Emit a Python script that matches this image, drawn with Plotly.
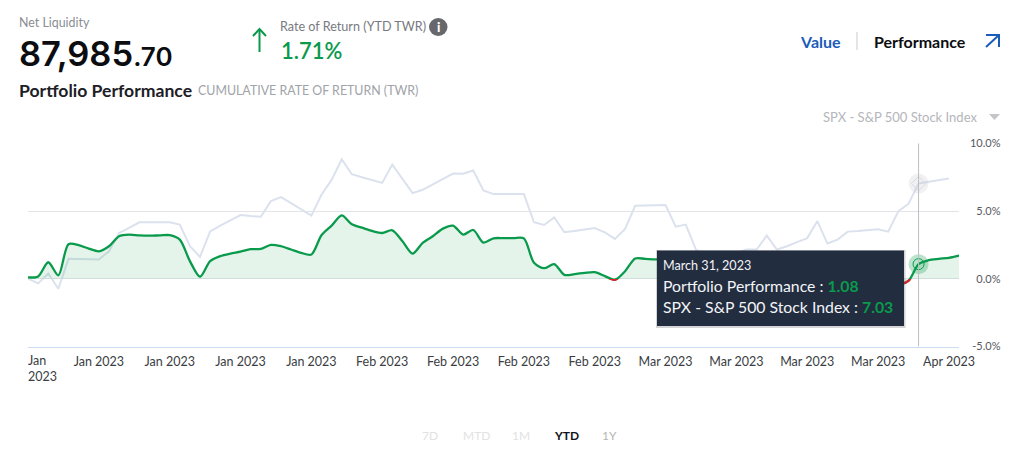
import plotly.graph_objects as go
import pandas as pd

W, H = 1029, 458
dates = pd.date_range("2023-01-02", periods=93, freq="D")

portfolio = [0.10,0.17,1.22,0.25,2.55,2.48,2.23,2.03,2.40,3.14,3.26,3.20,3.18,3.20,3.22,2.89,1.30,0.15,1.30,1.67,
             1.86,2.00,2.18,2.20,2.50,2.40,2.16,1.91,1.79,3.21,3.92,4.68,4.02,3.77,3.53,3.38,3.58,2.77,1.86,2.65,
             3.14,3.70,3.92,3.26,3.60,2.67,2.99,3.00,3.00,2.98,1.18,0.78,1.08,0.29,0.34,0.44,0.49,0.20,-0.07,0.56,
             1.50,1.47,1.43,1.45,1.00,0.90,0.40,0.20,0.20,0.30,0.35,0.40,0.30,0.70,0.40,0.40,0.50,0.60,1.00,0.50,
             0.40,0.60,0.60,0.60,0.50,0.20,-0.40,-0.15,1.08,1.37,1.47,1.55,1.71]
benchmark = [0.00,-0.34,0.39,-0.74,1.47,1.45,1.44,1.42,2.03,3.38,3.75,4.17,4.17,4.17,4.17,4.00,2.40,1.62,3.50,3.92,
             4.31,4.70,4.63,4.58,5.73,6.03,5.59,5.15,4.66,6.20,7.30,8.82,7.72,7.50,7.30,7.08,8.43,7.35,6.32,6.57,
             6.96,7.35,7.77,7.75,7.99,6.52,6.25,6.25,6.25,6.25,4.17,3.97,4.53,3.43,3.53,3.63,3.75,3.43,2.94,3.68,
             5.39,5.41,5.42,5.44,3.85,4.00,2.16,1.70,1.60,1.70,1.90,2.16,2.16,3.19,2.16,2.40,2.70,3.00,4.26,2.60,
             2.89,3.48,3.52,3.60,3.65,3.48,4.98,5.54,7.03,7.16,7.28,7.40]

tick_dates = ["2023-01-09","2023-01-16","2023-01-23","2023-01-30","2023-02-06","2023-02-13","2023-02-20",
              "2023-02-27","2023-03-06","2023-03-13","2023-03-20","2023-03-27","2023-04-03"]
tick_labels = ["Jan 2023"]*4 + ["Feb 2023"]*4 + ["Mar 2023"]*4 + ["Apr 2023"]
y_ticks = [-5, 0, 5, 10]
y_labels = ["-5.0%", "0.0%", "5.0%", "10.0%"]
hover_date = "2023-03-31"
hover_port = 1.08
hover_bench = 7.03

FONT = "Lato"
GREEN = "#0a9a4c"
INK = "#111418"
GREY = "#8a8d93"

def X(p): return p / W
def Y(p): return 1 - p / H

fig = go.Figure()
fig.add_trace(go.Scatter(x=dates, y=benchmark, mode="lines", line=dict(color="#dbe2ee", width=2), hoverinfo="skip"))
fig.add_trace(go.Scatter(x=dates, y=portfolio, mode="lines", line=dict(color=GREEN, width=2.3, shape="spline", smoothing=0.8),
                         fill="tozeroy", fillcolor="rgba(10,154,76,0.11)", hoverinfo="skip"))
fig.add_trace(go.Scatter(x=dates, y=portfolio, mode="lines", yaxis="y2", line=dict(color="#e0202c", width=2.3, shape="spline", smoothing=0.8), hoverinfo="skip"))
fig.add_trace(go.Scatter(x=[hover_date], y=[hover_bench], mode="markers", marker=dict(size=20, color="rgba(170,170,175,0.17)"), hoverinfo="skip"))
fig.add_trace(go.Scatter(x=[hover_date], y=[hover_bench], mode="markers", marker=dict(size=11, symbol="diamond", color="rgba(0,0,0,0)", line=dict(color="#d5dbe6", width=1)), hoverinfo="skip"))
fig.add_trace(go.Scatter(x=[hover_date], y=[hover_port], mode="markers", marker=dict(size=20, color="rgba(10,154,76,0.28)"), hoverinfo="skip"))
fig.add_trace(go.Scatter(x=[hover_date], y=[hover_port], mode="markers", marker=dict(size=11, color="rgba(0,0,0,0)", line=dict(color=GREEN, width=1)), hoverinfo="skip"))

ann = []
def T(x, y, text, size=12, color=INK, anchor="left", weight=None, family=FONT):
    f = dict(family=family, size=size, color=color)
    if weight: f["weight"] = weight
    ann.append(dict(x=X(x), y=Y(y), xref="paper", yref="paper", text=text, showarrow=False, xanchor=anchor, yanchor="middle",
                    font=f, borderpad=0, borderwidth=0))

T(19, 23, "Net Liquidity", 12.4, GREY)
T(19, 53, "87,985<span style='font-size:26px'>.70</span>", 34.5, "#0b0d10", weight=600, family="Inter")
T(280, 27, "Rate of Return (YTD TWR)", 12.6, "#777a80")
T(281, 51, "1.71%", 22, GREEN, weight=600)
T(438, 27, "i", 13, "#ffffff", anchor="center", weight=900)
T(19, 90, "Portfolio Performance", 17.6, "#1c2026", weight=700)
T(198, 91, "CUMULATIVE RATE OF RETURN (TWR)", 12.4, "#a0a3a8")
T(800, 41, "Value", 16, "#1a5cb8", weight=700)
T(874, 41, "Performance", 16, "#0b0d10", weight=700)
T(823, 117, "SPX - S&amp;P 500 Stock Index", 13, "#b4b6ba")
T(28, 360, "Jan", 12.5, "#3a3d42")
T(28, 376, "2023", 12.5, "#3a3d42")
for xp, label, c, w in [(430,"7D","#e2e2e2",None),(476,"MTD","#e2e2e2",None),(521,"1M","#e2e2e2",None),(566,"YTD","#111418",700),(609,"1Y","#b5b5b5",None)]:
    T(xp, 435, label, 12, c, anchor="center", weight=w)
T(663, 265, "March 31, 2023", 12.6, "#f2f4f7")
T(663, 285.5, f"Portfolio Performance : <span style='color:{GREEN}'><b>{hover_port:.2f}</b></span>", 15.8, "#f2f4f7")
T(663, 306.5, f"SPX - S&amp;P 500 Stock Index : <span style='color:{GREEN}'><b>{hover_bench:.2f}</b></span>", 15.8, "#f2f4f7")

def P(points, close=False):
    s = "M " + " L ".join(f"{X(a):.5f},{Y(b):.5f}" for a, b in points)
    return s + (" Z" if close else "")

shapes = [
    dict(type="line", xref="x", yref="y", x0=hover_date, x1=hover_date, y0=10, y1=-5, line=dict(color="#bdbec1", width=1), layer="above"),
    dict(type="rect", xref="paper", yref="paper", x0=X(656), x1=X(905.5), y0=Y(250), y1=Y(328), fillcolor="rgba(60,60,70,0.22)", line=dict(width=0), layer="above"),
    dict(type="rect", xref="paper", yref="paper", x0=X(657), x1=X(904), y0=Y(250.5), y1=Y(326), fillcolor="#222d3f", line=dict(width=0), layer="above"),
    dict(type="circle", xref="paper", yref="paper", x0=X(429), x1=X(447.5), y0=Y(36), y1=Y(18), fillcolor="#66686c", line=dict(width=0)),
    dict(type="path", xref="paper", yref="paper", path=P([(259.5,52),(259.5,29)]), line=dict(color=GREEN, width=2)),
    dict(type="path", xref="paper", yref="paper", path=P([(253,36),(259.5,29),(266,36)]), line=dict(color=GREEN, width=2)),
    dict(type="line", xref="paper", yref="paper", x0=X(857), x1=X(857), y0=Y(32), y1=Y(50), line=dict(color="#dcdde0", width=1.5)),
    dict(type="path", xref="paper", yref="paper", path=P([(986,47),(999,35)]), line=dict(color="#1a5cb8", width=2)),
    dict(type="path", xref="paper", yref="paper", path=P([(986,35),(999,35),(999,47)]), line=dict(color="#1a5cb8", width=2)),
    dict(type="path", xref="paper", yref="paper", path=P([(989,114),(1000,114),(994.5,120)], True), fillcolor="#c4c5c8", line=dict(width=0)),
]

fig.update_layout(
    width=W, height=H, margin=dict(l=0, r=0, t=0, b=0, autoexpand=False), autosize=False,
    paper_bgcolor="white", plot_bgcolor="rgba(0,0,0,0)", showlegend=False,
    font=dict(family=FONT, size=12, color="#3a3d42"),
    xaxis=dict(domain=[X(28), X(959.04)], range=["2023-01-02", "2023-04-04"], type="date", tickmode="array",
               tickvals=tick_dates, ticktext=tick_labels, showgrid=False, showline=True, linecolor="#cddcf0", linewidth=1,
               ticks="outside", ticklen=3, tickcolor="rgba(0,0,0,0)", tickfont=dict(family=FONT, size=12.5, color="#3a3d42"), anchor="y", zeroline=False),
    yaxis=dict(domain=[Y(346.5), Y(143.3)], range=[-5, 10], anchor="free", position=X(1000.5), side="left", tickmode="array",
               tickvals=y_ticks, ticktext=y_labels, showgrid=True, gridcolor="#e3e4e8", gridwidth=1, zeroline=False,
               showline=False, ticks="", tickfont=dict(family=FONT, size=11, color="#55585e")),
    yaxis2=dict(domain=[Y(346.5), Y(278.9)], range=[-5, 0], anchor="x", visible=False, showgrid=False),
    annotations=ann, shapes=shapes,
)
fig.write_html("out.html", post_script="document.body.style.margin='0';", config=dict(displayModeBar=False))
